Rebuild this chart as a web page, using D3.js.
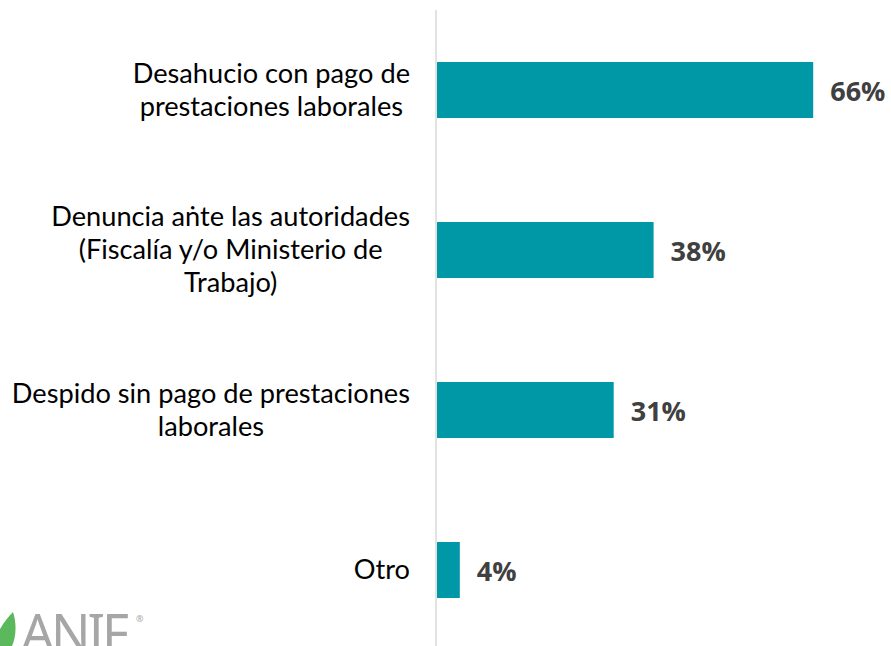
<!DOCTYPE html>
<html>
<head>
<meta charset="utf-8">
<script src="https://cdn.jsdelivr.net/npm/d3@7"></script>
<style>
  body { margin: 0; background: #fff; }
  svg { display: block; }
</style>
</head>
<body>
<div id="chart"></div>
<script>
const categories = [
  ["Desahucio con pago de", "prestaciones laborales"],
  ["Denuncia aṅte las autoridades", "(Fiscalía y/o Ministerio de", "Trabajo)"],
  ["Despido sin pago de prestaciones", "laborales"],
  ["Otro"]
];
const values = [66, 38, 31, 4];
const valueLabels = ["66%", "38%", "31%", "4%"];

const width = 891, height = 646;
const x0 = 437;

const svg = d3.select("#chart").append("svg")
  .attr("width", width)
  .attr("height", height)
  .attr("viewBox", [0, 0, width, height]);

const x = d3.scaleLinear().domain([0, 100]).range([x0, x0 + 570]);
const y = d3.scaleBand()
  .domain(d3.range(categories.length))
  .range([10, 650])
  .paddingInner(0.65)
  .paddingOuter(0.325);

svg.selectAll("rect.bar")
  .data(values)
  .join("rect")
  .attr("class", "bar")
  .attr("x", x(0))
  .attr("y", (d, i) => y(i))
  .attr("width", d => x(d) - x(0))
  .attr("height", y.bandwidth())
  .attr("fill", "#0097a7");

// vertical axis line
svg.append("line")
  .attr("x1", 436).attr("x2", 436)
  .attr("y1", 10).attr("y2", height)
  .attr("stroke", "#d9d9d9")
  .attr("stroke-width", 1.5);

// category labels, block centred, right edge at 410
const lineH = 33;
categories.forEach((lines, i) => {
  const cy = y(i) + y.bandwidth() / 2;
  const g = svg.append("g");
  const texts = lines.map((t, j) => g.append("text")
    .attr("y", cy + (j - (lines.length - 1) / 2) * lineH + 9)
    .attr("font-family", "Lato, 'Open Sans', sans-serif")
    .attr("font-size", 27.2)
    .attr("fill", "#000")
    .attr("text-anchor", "middle")
    .text(t));
  const maxW = d3.max(texts, t => t.node().getComputedTextLength());
  texts.forEach(t => t.attr("x", 410 - maxW / 2));
});

// value labels
svg.selectAll("text.val")
  .data(values)
  .join("text")
  .attr("class", "val")
  .attr("x", d => x(d) + 17)
  .attr("y", (d, i) => y(i) + y.bandwidth() / 2 + 11)
  .attr("font-family", "'Open Sans', sans-serif")
  .attr("font-weight", 700)
  .attr("font-size", 27)
  .attr("fill", "#404040")
  .text((d, i) => valueLabels[i]);

// ANIF logo, cut off at the bottom
const logo = svg.append("g");
logo.append("path")
  .attr("d", "M-6,646 C-3,630 6,619 13,612 C17,624 16,637 12,646 Z")
  .attr("fill", "#5cb85c");
logo.append("text")
  .attr("x", 21)
  .attr("y", 652)
  .attr("font-family", "'Noto Sans', sans-serif")
  .attr("font-size", 52)
  .attr("fill", "#a6a6a6")
  .attr("textLength", 108)
  .attr("lengthAdjust", "spacing")
  .text("ANIF");
logo.append("text")
  .attr("x", 136)
  .attr("y", 622)
  .attr("font-family", "'Noto Sans', sans-serif")
  .attr("font-size", 9)
  .attr("fill", "#a6a6a6")
  .text("®");
</script>
</body>
</html>
